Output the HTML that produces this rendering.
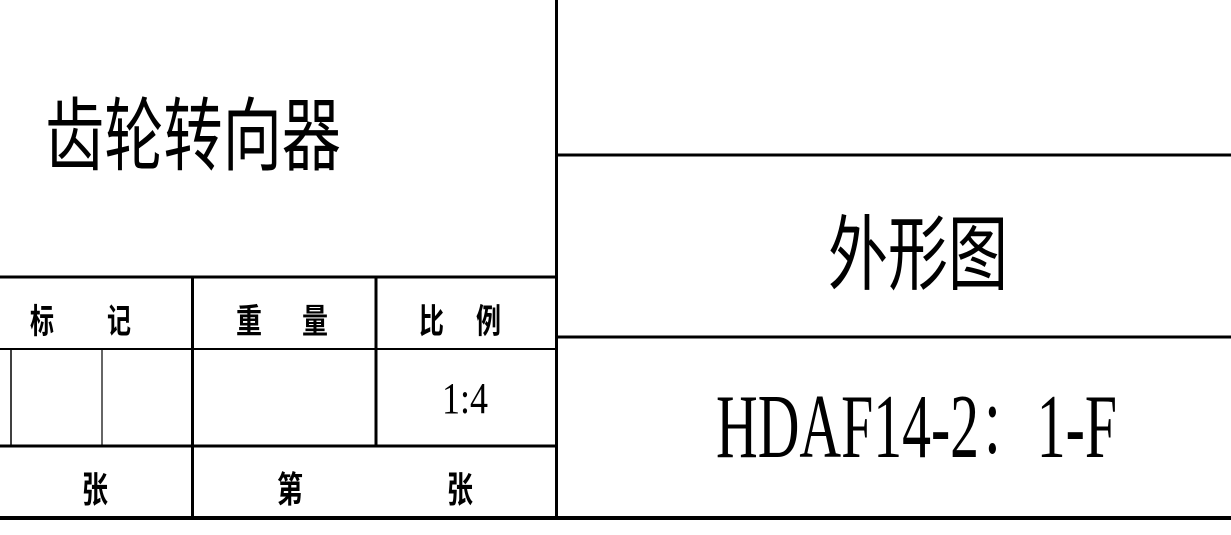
<!DOCTYPE html>
<html><head><meta charset="utf-8"><style>html,body{margin:0;padding:0;background:#fff}svg{display:block}</style></head>
<body>
<svg width="1231" height="535" viewBox="0 0 1231 535" xmlns="http://www.w3.org/2000/svg">
<rect width="1231" height="535" fill="#fff"/>
<g stroke="#000" fill="none">
<line x1="556.5" y1="0" x2="556.5" y2="518" stroke-width="3"/>
<line x1="556" y1="155" x2="1231" y2="155" stroke-width="3"/>
<line x1="556" y1="337" x2="1231" y2="337" stroke-width="3"/>
<line x1="0" y1="277" x2="556" y2="277" stroke-width="3"/>
<line x1="0" y1="349" x2="556" y2="349" stroke-width="2"/>
<line x1="0" y1="446" x2="556" y2="446" stroke-width="3"/>
<line x1="0" y1="518" x2="1231" y2="518" stroke-width="4"/>
<line x1="192.5" y1="277" x2="192.5" y2="518" stroke-width="3"/>
<line x1="376" y1="277" x2="376" y2="446" stroke-width="3"/>
<line x1="11" y1="349" x2="11" y2="446" stroke-width="1.5"/>
<line x1="102" y1="349" x2="102" y2="446" stroke-width="1.2"/>
</g>
<g fill="#000" font-family="'Noto Sans CJK SC', 'WenQuanYi Zen Hei', sans-serif">
<text x="45" y="164" font-size="80" textLength="296" lengthAdjust="spacingAndGlyphs">齿轮转向器</text>
<text x="828" y="283" font-size="82" textLength="180" lengthAdjust="spacingAndGlyphs">外形图</text>
<text x="30" y="333" font-size="34" font-weight="bold" textLength="24" lengthAdjust="spacingAndGlyphs">标</text>
<text x="107" y="333" font-size="34" font-weight="bold" textLength="24" lengthAdjust="spacingAndGlyphs">记</text>
<text x="236" y="333" font-size="34" font-weight="bold" textLength="26" lengthAdjust="spacingAndGlyphs">重</text>
<text x="302" y="333" font-size="34" font-weight="bold" textLength="26" lengthAdjust="spacingAndGlyphs">量</text>
<text x="419" y="333" font-size="34" font-weight="bold" textLength="25" lengthAdjust="spacingAndGlyphs">比</text>
<text x="476" y="333" font-size="34" font-weight="bold" textLength="25" lengthAdjust="spacingAndGlyphs">例</text>
<text x="82" y="502" font-size="36" font-weight="bold" textLength="26" lengthAdjust="spacingAndGlyphs">张</text>
<text x="277" y="502" font-size="36" font-weight="bold" textLength="26" lengthAdjust="spacingAndGlyphs">第</text>
<text x="447" y="502" font-size="36" font-weight="bold" textLength="26" lengthAdjust="spacingAndGlyphs">张</text>
</g>
<g fill="#000" font-family="'Liberation Serif', 'Noto Serif CJK SC', serif">
<text x="442" y="413" font-size="44" textLength="46" lengthAdjust="spacingAndGlyphs">1:4</text>
<text x="716" y="457" font-size="91" textLength="401" lengthAdjust="spacingAndGlyphs">HDAF14-2：1-F</text>
</g>
</svg>
</body></html>
